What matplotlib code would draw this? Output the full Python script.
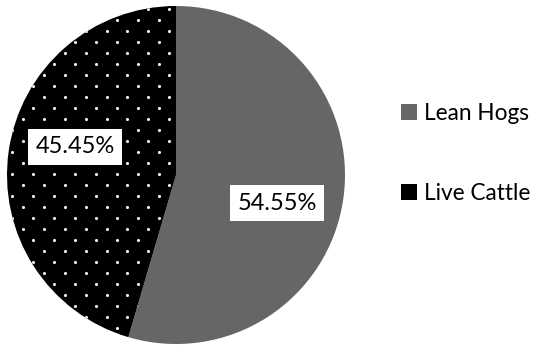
import numpy as np
import matplotlib.pyplot as plt

labels = ["Lean Hogs", "Live Cattle"]
shares = [54.55, 45.45]
colors = ["#666666", "#000000"]

plt.rcParams["font.family"] = ["Lato", "DejaVu Sans"]

fig = plt.figure(figsize=(5.39, 3.45), dpi=100)
ax = fig.add_axes([7 / 539, 1 / 345, 338 / 539, 338 / 345])

wedges, texts = ax.pie(shares, colors=colors, startangle=90, counterclock=False,
                       wedgeprops=dict(linewidth=0))

# dotted texture on the Live Cattle slice
gx, gy = np.meshgrid(np.arange(-1.1, 1.1, 0.124), np.arange(-1.1, 1.1, 0.065))
gx = gx + (np.arange(gx.shape[0])[:, None] % 2) * 0.062
dots = ax.scatter(gx.ravel() - 0.055, gy.ravel() + 0.002, s=5, color="#f0f0f0",
                  linewidths=0, zorder=3)
dots.set_clip_path(wedges[1])

# percentage labels, a bit rotated like the original
for w, v in zip(wedges, shares):
    ang = np.deg2rad((w.theta1 + w.theta2) / 2 - 7.5)
    ax.text(0.62 * np.cos(ang), 0.62 * np.sin(ang), f"{v:.2f}%", fontsize=17,
            ha="center", va="center", zorder=5,
            bbox=dict(facecolor="white", edgecolor="none", pad=5.5))

ax.set_xlim(-1, 1)
ax.set_ylim(-1, 1)
ax.set_aspect("equal")

fig.legend(wedges, labels, loc="center left", bbox_to_anchor=(401 / 539, 0.555),
           frameon=False, fontsize=16.3, handlelength=0.72, handleheight=0.72,
           handletextpad=0.3, labelspacing=2.6, borderaxespad=0, borderpad=0)

fig.savefig("out.png", dpi=100)
